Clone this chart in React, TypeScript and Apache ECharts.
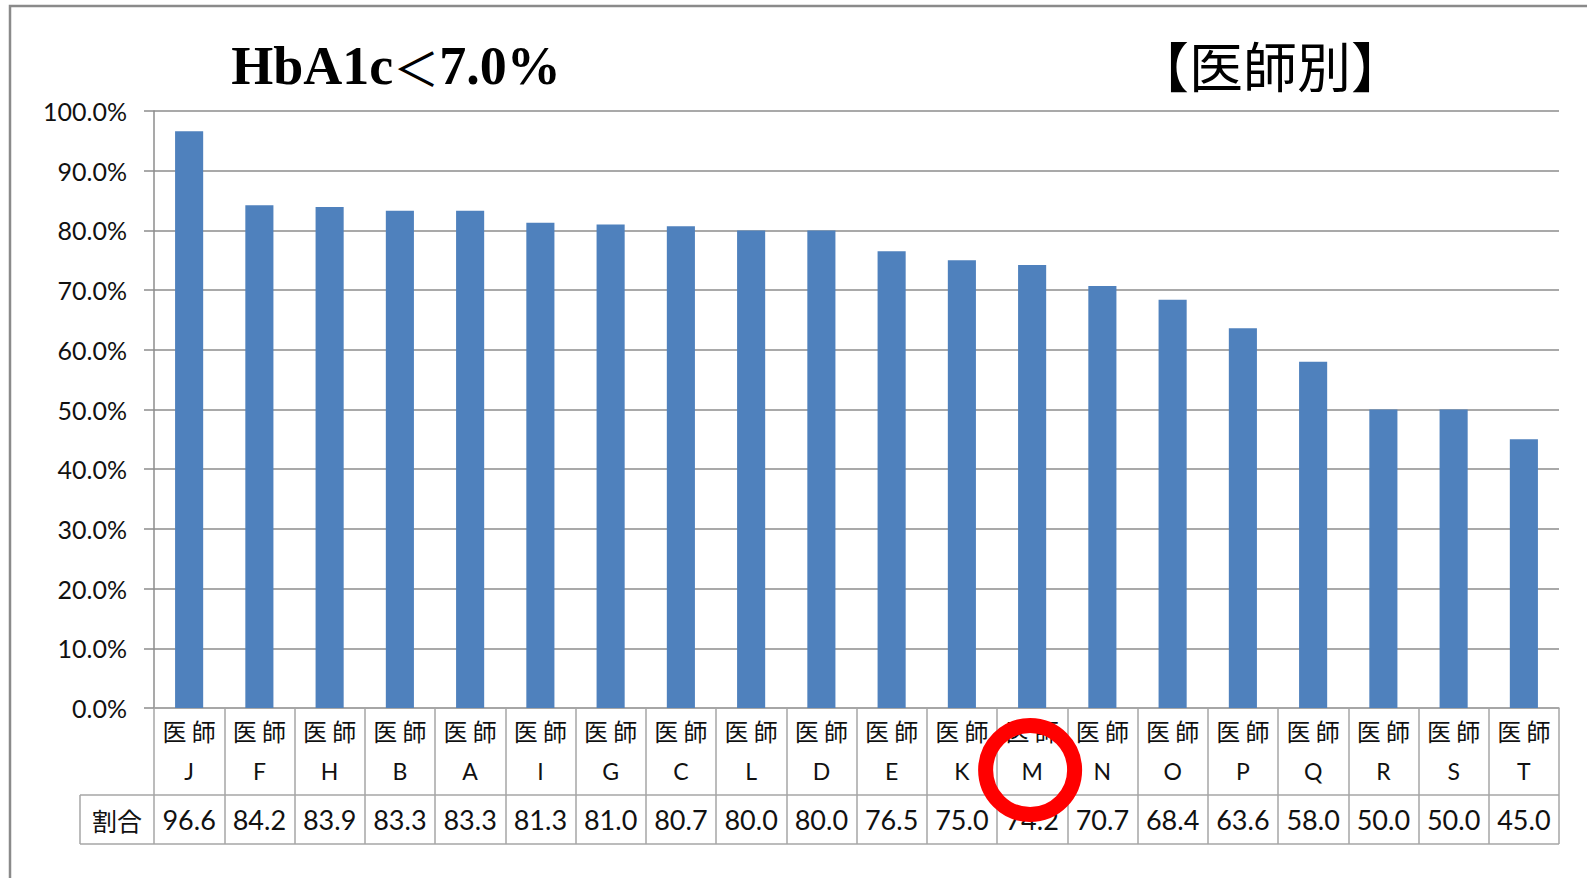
import React, { useEffect, useRef } from "react";
import * as echarts from "echarts";

const categories = ["J", "F", "H", "B", "A", "I", "G", "C", "L", "D", "E", "K", "M", "N", "O", "P", "Q", "R", "S", "T"];
const rates = [96.6, 84.2, 83.9, 83.3, 83.3, 81.3, 81.0, 80.7, 80.0, 80.0, 76.5, 75.0, 74.2, 70.7, 68.4, 63.6, 58.0, 50.0, 50.0, 45.0];
const rowPrefix = "医 師";
const valueRowLabel = "割合";
const titleParts = ["HbA1c", "＜", "7.0%"];
const titleRight = "【医師別】";
const highlighted = "M";

const GRID_LEFT = 154;
const GRID_RIGHT = 1559;
const AXIS_Y = 708;
const ROW_SEP_Y = 795;
const TABLE_BOTTOM = 844;
const TABLE_LEFT = 80;
const LINE_GRAY = "#a6a6a6";

export default function App() {
  const ref = useRef<HTMLDivElement>(null);
  useEffect(() => {
    if (!ref.current) return;
    const chart = echarts.init(ref.current, null, { renderer: "svg" });
    chart.setOption({
      animation: false,
      backgroundColor: "#ffffff",
      grid: { left: GRID_LEFT, right: 1587 - GRID_RIGHT, top: 111, bottom: 878 - AXIS_Y },
      xAxis: {
        type: "category",
        data: categories,
        axisLine: { show: true, lineStyle: { color: LINE_GRAY, width: 1.5 } },
        axisTick: {
          show: true,
          interval: 0,
          alignWithLabel: false,
          length: TABLE_BOTTOM - AXIS_Y,
          lineStyle: { color: LINE_GRAY, width: 1.5 },
        },
        axisLabel: {
          interval: 0,
          margin: 2,
          color: "#000",
          formatter: (v: string, i: number) =>
            `{a|${rowPrefix}}\n{b|${v}}\n{c|${rates[i].toFixed(1)}}`,
          rich: {
            a: { fontFamily: "Noto Sans CJK JP", fontSize: 24, lineHeight: 41, color: "#111" },
            b: { fontFamily: "Lato", fontSize: 23, lineHeight: 40, color: "#111" },
            c: { fontFamily: "Lato", fontSize: 27, lineHeight: 56, color: "#111" },
          },
        },
      },
      yAxis: {
        type: "value",
        min: 0,
        max: 100,
        interval: 10,
        axisLine: { show: true, lineStyle: { color: "#8c8c8c", width: 1.5 } },
        axisTick: { show: true, inside: false, length: 10, lineStyle: { color: "#8c8c8c", width: 1.5 } },
        axisLabel: {
          margin: 27,
          color: "#111",
          fontFamily: "Lato",
          fontSize: 25,
          formatter: (v: number) => v.toFixed(1) + "%",
        },
        splitLine: { show: true, lineStyle: { color: "#8c8c8c", width: 1.5 } },
      },
      series: [
        {
          type: "bar",
          data: rates,
          barWidth: "40%",
          itemStyle: { color: "#4f81bd" },
        },
      ],
      graphic: [
        {
          id: "frame",
          type: "rect",
          shape: { x: 10, y: 6, width: 1700, height: 1000 },
          style: { fill: "none", stroke: "#8a8a8a", lineWidth: 2.5 },
          silent: true,
        },
        {
          id: "title1",
          type: "text",
          x: 396,
          y: 66,
          style: {
            text: `{h|${titleParts[0]}}{l|${titleParts[1]}}{h|${titleParts[2]}}`,
            rich: {
              h: { fontFamily: "Liberation Serif", fontWeight: "bold", fontSize: 54, fill: "#000" },
              l: { fontFamily: "Noto Sans CJK JP", fontWeight: "normal", fontSize: 46, fill: "#000" },
            },
            align: "center",
            verticalAlign: "middle",
          },
        },
        {
          id: "title2",
          type: "text",
          x: 1270,
          y: 64,
          style: {
            text: titleRight,
            font: "54px 'Noto Sans CJK JP', sans-serif",
            fill: "#000",
            align: "center",
            verticalAlign: "middle",
          },
        },
        {
          id: "sep",
          type: "line",
          shape: { x1: TABLE_LEFT, y1: ROW_SEP_Y, x2: GRID_RIGHT, y2: ROW_SEP_Y },
          style: { stroke: LINE_GRAY, lineWidth: 1.5 },
        },
        {
          id: "bottom",
          type: "line",
          shape: { x1: TABLE_LEFT, y1: TABLE_BOTTOM, x2: GRID_RIGHT, y2: TABLE_BOTTOM },
          style: { stroke: LINE_GRAY, lineWidth: 1.5 },
        },
        {
          id: "leftEdge",
          type: "line",
          shape: { x1: TABLE_LEFT, y1: ROW_SEP_Y, x2: TABLE_LEFT, y2: TABLE_BOTTOM },
          style: { stroke: LINE_GRAY, lineWidth: 1.5 },
        },
        {
          id: "rowLabel",
          type: "text",
          x: (TABLE_LEFT + GRID_LEFT) / 2,
          y: (ROW_SEP_Y + TABLE_BOTTOM) / 2,
          style: {
            text: valueRowLabel,
            font: "25px 'Noto Sans CJK JP', sans-serif",
            fill: "#111",
            align: "center",
            verticalAlign: "middle",
          },
        },
      ],
    });
    const cx = chart.convertToPixel({ xAxisIndex: 0 }, highlighted) as number;
    chart.setOption({
      graphic: [
        {
          id: "ring",
          type: "ellipse",
          shape: { cx: cx - 2, cy: 770, rx: 44.5, ry: 44.5 },
          style: { fill: "none", stroke: "#ff0000", lineWidth: 15 },
          z: 100,
        },
      ],
    });
    return () => chart.dispose();
  }, []);
  return (
    <div
      ref={ref}
      style={{ position: "fixed", left: 0, top: 0, width: 1587, height: 878 }}
    />
  );
}
